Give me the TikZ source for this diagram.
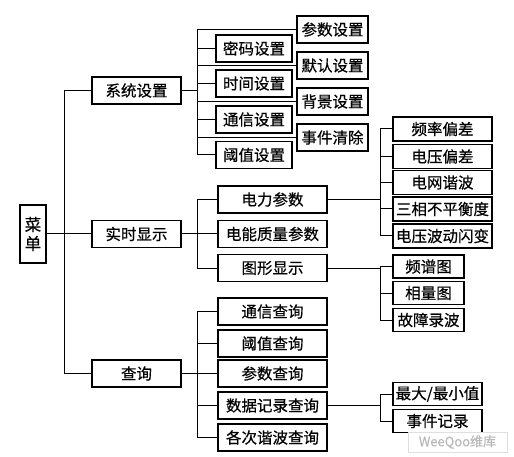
\documentclass[tikz,border=0pt]{standalone}
\usepackage{fontspec}
\newfontfamily\cjk[FakeBold=0.5]{Noto Sans CJK SC}
\usetikzlibrary{positioning}

\begin{document}
\begin{tikzpicture}[
        x=1pt, y=-1pt,
        line width=1pt,
        box/.style={
            draw=black,
            line width=1.3pt,
            inner sep=1pt,
            minimum height=26pt,
            font=\cjk\fontsize{15.5}{16}\selectfont
        },
        topbox/.style={box, minimum width=89pt, minimum height=27pt},
        setA/.style={box, minimum width=76pt, minimum height=27pt},
        setB/.style={box, minimum width=71pt, minimum height=27pt},
        midbox/.style={box, minimum width=109pt, minimum height=27pt},
        leafA/.style={box, minimum width=99pt, minimum height=24pt},
        leafB/.style={box, minimum width=71pt, minimum height=23pt},
        leafC/.style={box, minimum width=89pt, minimum height=23pt}
    ]
        \useasboundingbox (0,0) rectangle (514,457);

        % Root
        \node[box, minimum width=26pt, minimum height=58pt, align=center,
              font=\cjk\fontsize{16.5}{19}\selectfont] (menu) at (33,234) {菜\\单};
        \coordinate (trunk) at (64,234);

        % Top level
        \node[topbox] (sys) at (136.5,90.5) {系统设置};
        \node[topbox] (rt) at (136.5,234) {实时显示};
        \node[topbox] (qry) at (136.5,373.5) {查询};

        % System settings
        \node[setA] (pw) at (254,48.5) {密码设置};
        \node[setA] (tm) at (254,83.5) {时间设置};
        \node[setA] (comm) at (254,119.5) {通信设置};
        \node[setA] (thr) at (254,155) {阈值设置};
        \node[setB] (par) at (332.5,29.5) {参数设置};
        \node[setB] (dflt) at (332.5,65.5) {默认设置};
        \node[setB] (bg) at (332.5,101.5) {背景设置};
        \node[setB] (clr) at (332.5,137.5) {事件清除};
        \coordinate (fs) at (197,90.5);

        % Real-time display
        \node[midbox] (pwr) at (272.5,199.5) {电力参数};
        \node[midbox] (pq) at (272.5,234) {电能质量参数};
        \node[midbox] (gfx) at (272.5,268) {图形显示};
        \coordinate (fr) at (197,234);

        \node[leafA] (frq) at (442.5,129) {频率偏差};
        \node[leafA] (volt) at (442.5,156.5) {电压偏差};
        \node[leafA] (harm) at (442.5,182.5) {电网谐波};
        \node[leafA] (unb) at (442.5,209) {三相不平衡度};
        \node[leafA] (flk) at (442.5,236) {电压波动闪变};
        \coordinate (fp) at (380,199.5);

        \node[leafB] (spec) at (428.5,266.5) {频谱图};
        \node[leafB] (phas) at (428.5,293) {相量图};
        \node[leafB] (fault) at (428.5,320) {故障录波};
        \coordinate (fg) at (380,268);

        % Query
        \node[midbox] (cq) at (272.5,311.5) {通信查询};
        \node[midbox] (tq) at (272.5,343.5) {阈值查询};
        \node[midbox] (pqry) at (272.5,373.5) {参数查询};
        \node[midbox] (rec) at (272.5,405.5) {数据记录查询};
        \node[midbox] (hq) at (272.5,437.5) {各次谐波查询};
        \coordinate (fq) at (197,373.5);

        \node[leafC] (mm) at (437.5,394) {最大/最小值};
        \node[leafC] (ev) at (437.5,421) {事件记录};
        \coordinate (fd) at (380,405.5);

        % Connectors
        \draw (menu) -- (rt);
        \draw (trunk) |- (sys);
        \draw (trunk) |- (qry);

        \draw (sys) -- (fs);
        \foreach \n in {pw, tm, comm, thr, par, dflt, bg, clr}
            \draw (fs) |- (\n);

        \draw (rt) -- (pq);
        \draw (fr) |- (pwr);
        \draw (fr) |- (gfx);

        \draw (pwr) -- (fp);
        \foreach \n in {frq, volt, harm, unb, flk}
            \draw (fp) |- (\n);

        \draw (gfx) -- (fg);
        \foreach \n in {spec, phas, fault}
            \draw (fg) |- (\n);

        \draw (qry) -- (pqry);
        \foreach \n in {cq, tq, rec, hq}
            \draw (fq) |- (\n);

        \draw (rec) -- (fd);
        \foreach \n in {mm, ev}
            \draw (fd) |- (\n);

        % Watermark
        \node[draw=gray!25, line width=0.5pt, inner sep=1pt, minimum width=99pt, minimum height=20pt,
              text=gray!55, font=\cjk\fontsize{13}{13}\selectfont] (wm) at (457.5,442) {\textit{WeeQoo}维库};
    \end{tikzpicture}
\end{document}
